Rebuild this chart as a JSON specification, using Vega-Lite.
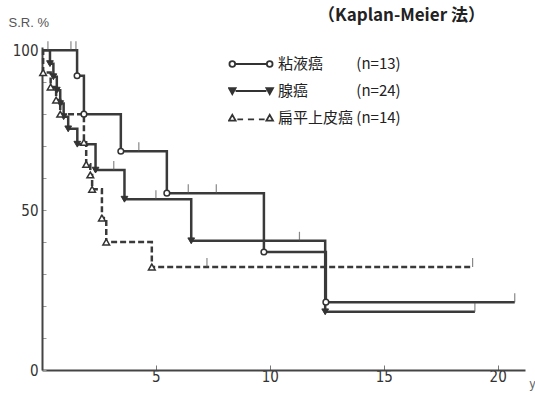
{
  "$schema": "https://vega.github.io/schema/vega-lite/v6.json",
  "width": 483,
  "height": 323,
  "autosize": {"type": "none"},
  "padding": {"left": 42, "top": 47, "right": 10, "bottom": 28},
  "background": "white",
  "title": {"text": "（Kaplan-Meier 法）", "anchor": "start", "frame": "group", "dx": 276, "offset": 21, "dy": 30, "fontSize": 17, "fontWeight": "bold", "font": "Noto Sans CJK JP", "color": "#222"},
  "data": {"values": [
    {"g": "粘液癌", "t": 0, "s": 100, "k": "start"},
    {"g": "粘液癌", "t": 0.26, "s": 100, "k": "censor"},
    {"g": "粘液癌", "t": 1.27, "s": 100, "k": "censor"},
    {"g": "粘液癌", "t": 1.49, "s": 100, "k": "censor"},
    {"g": "粘液癌", "t": 1.54, "s": 92, "k": "event"},
    {"g": "粘液癌", "t": 1.84, "s": 80, "k": "event"},
    {"g": "粘液癌", "t": 3.46, "s": 68.4, "k": "event"},
    {"g": "粘液癌", "t": 4.25, "s": 68.4, "k": "censor"},
    {"g": "粘液癌", "t": 5.48, "s": 55.3, "k": "event"},
    {"g": "粘液癌", "t": 6.42, "s": 55.3, "k": "censor"},
    {"g": "粘液癌", "t": 7.65, "s": 55.3, "k": "censor"},
    {"g": "粘液癌", "t": 9.74, "s": 36.9, "k": "event"},
    {"g": "粘液癌", "t": 12.46, "s": 21.2, "k": "event"},
    {"g": "粘液癌", "t": 20.75, "s": 21.2, "k": "censor"},
    {"g": "腺癌", "t": 0, "s": 100, "k": "start"},
    {"g": "腺癌", "t": 0.35, "s": 95.8, "k": "event"},
    {"g": "腺癌", "t": 0.5, "s": 91.7, "k": "event"},
    {"g": "腺癌", "t": 0.65, "s": 87.5, "k": "event"},
    {"g": "腺癌", "t": 0.8, "s": 83.3, "k": "event"},
    {"g": "腺癌", "t": 0.95, "s": 79.2, "k": "event"},
    {"g": "腺癌", "t": 1.15, "s": 75.4, "k": "event"},
    {"g": "腺癌", "t": 1.55, "s": 70.6, "k": "event"},
    {"g": "腺癌", "t": 2.35, "s": 62.5, "k": "event"},
    {"g": "腺癌", "t": 3.15, "s": 62.5, "k": "censor"},
    {"g": "腺癌", "t": 3.62, "s": 53.4, "k": "event"},
    {"g": "腺癌", "t": 5.0, "s": 53.4, "k": "censor"},
    {"g": "腺癌", "t": 6.55, "s": 40.4, "k": "event"},
    {"g": "腺癌", "t": 11.3, "s": 40.4, "k": "censor"},
    {"g": "腺癌", "t": 12.43, "s": 18.2, "k": "event"},
    {"g": "腺癌", "t": 19.0, "s": 18.2, "k": "censor"},
    {"g": "扁平上皮癌", "t": 0, "s": 100, "k": "start"},
    {"g": "扁平上皮癌", "t": 0.05, "s": 93, "k": "event"},
    {"g": "扁平上皮癌", "t": 0.38, "s": 88.5, "k": "event"},
    {"g": "扁平上皮癌", "t": 0.62, "s": 84.4, "k": "event"},
    {"g": "扁平上皮癌", "t": 0.8, "s": 80, "k": "event"},
    {"g": "扁平上皮癌", "t": 1.84, "s": 71.2, "k": "event"},
    {"g": "扁平上皮癌", "t": 1.94, "s": 64.3, "k": "event"},
    {"g": "扁平上皮癌", "t": 2.12, "s": 61, "k": "event"},
    {"g": "扁平上皮癌", "t": 2.2, "s": 56.5, "k": "event"},
    {"g": "扁平上皮癌", "t": 2.63, "s": 47.5, "k": "event"},
    {"g": "扁平上皮癌", "t": 2.82, "s": 40, "k": "event"},
    {"g": "扁平上皮癌", "t": 4.82, "s": 32.2, "k": "event"},
    {"g": "扁平上皮癌", "t": 7.24, "s": 32.2, "k": "censor"},
    {"g": "扁平上皮癌", "t": 18.9, "s": 32.2, "k": "censor"}
  ]},
  "encoding": {
    "x": {"field": "t", "type": "quantitative", "scale": {"domain": [0, 21.2], "nice": false, "zero": false},
      "axis": {"values": [5, 10, 15, 20], "title": "y", "titleX": 490, "titleY": 13, "titleAlign": "center", "titleBaseline": "middle", "titleFont": "Liberation Sans", "titleFontSize": 12, "titleFontWeight": "normal", "titleColor": "#666", "labelFont": "DejaVu Sans Condensed", "labelFontSize": 15, "labelColor": "#333", "tickSize": -5, "tickColor": "#777", "domainColor": "#444", "domainWidth": 2, "labelPadding": 4, "grid": false, "labelFlush": false}},
    "y": {"field": "s", "type": "quantitative", "scale": {"domain": [0, 101], "nice": false},
      "axis": {"values": [0, 10, 20, 30, 40, 50, 60, 70, 80, 90, 100], "labelExpr": "datum.value % 50 == 0 ? datum.label : ''", "title": "S.R. %", "titleAngle": 0, "titleX": -34, "titleY": -25, "titleAlign": "left", "titleBaseline": "middle", "titleFont": "Liberation Sans", "titleFontSize": 13, "titleFontWeight": "normal", "titleColor": "#555", "labelFont": "DejaVu Sans Condensed", "labelFontSize": 15, "labelColor": "#333", "tickSize": -4, "tickColor": "#999", "domainColor": "#444", "domainWidth": 2, "labelPadding": 8, "grid": false}}
  },
  "layer": [
    {"transform": [{"filter": "datum.g != '扁平上皮癌'"}],
     "mark": {"type": "line", "interpolate": "step-after", "color": "#3a3a3a", "strokeWidth": 2.5},
     "encoding": {"detail": {"field": "g"}, "order": {"field": "t"}}},
    {"transform": [{"filter": "datum.g == '扁平上皮癌'"}],
     "mark": {"type": "line", "interpolate": "step-after", "color": "#3a3a3a", "strokeWidth": 2.5, "strokeDash": [6, 3]},
     "encoding": {"order": {"field": "t"}}},
    {"transform": [{"filter": "datum.k == 'censor'"}],
     "mark": {"type": "tick", "orient": "vertical", "size": 9, "thickness": 1.2, "color": "#555", "yOffset": -4.5}},
    {"transform": [{"filter": "datum.k == 'event' && datum.g == '粘液癌'"}],
     "mark": {"type": "point", "shape": "circle", "size": 32, "filled": true, "fill": "white", "stroke": "#333", "strokeWidth": 1.5, "opacity": 1}},
    {"transform": [{"filter": "datum.k == 'event' && datum.g == '腺癌'"}],
     "mark": {"type": "point", "shape": "triangle-down", "size": 45, "filled": true, "fill": "#333", "stroke": "#333", "strokeWidth": 1, "opacity": 1}},
    {"transform": [{"filter": "datum.k == 'event' && datum.g == '扁平上皮癌'"}],
     "mark": {"type": "point", "shape": "triangle-up", "size": 45, "filled": true, "fill": "white", "stroke": "#333", "strokeWidth": 1.5, "opacity": 1}},
    {"transform": [{"filter": "datum.k == 'start'"}],
     "mark": {"type": "point", "filled": false, "fillOpacity": 0, "strokeOpacity": 0, "stroke": "#333", "strokeWidth": 1.8},
     "encoding": {
       "shape": {"field": "g", "type": "nominal",
         "scale": {"domain": ["粘液癌", "腺癌", "扁平上皮癌"], "range": [
           "M-0.98,0A0.13,0.13,0,1,1,-0.72,0A0.13,0.13,0,1,1,-0.98,0M-0.72,0L0.72,0M0.72,0A0.13,0.13,0,1,1,0.98,0A0.13,0.13,0,1,1,0.72,0",
           "M-1,-0.13L-0.7,-0.13L-0.85,0.14ZM-0.93,-0.08L-0.77,-0.08L-0.85,0.06ZM-0.7,0L0.7,0M0.7,-0.13L1,-0.13L0.85,0.14ZM0.77,-0.08L0.93,-0.08L0.85,0.06Z",
           "M-1,0.12L-0.7,0.12L-0.85,-0.14ZM-0.62,0.06L-0.36,0.06M-0.14,0.06L0.14,0.06M0.36,0.06L0.62,0.06M0.7,0.12L1,0.12L0.85,-0.14Z"]},
         "legend": {"orient": "none", "legendX": 186, "legendY": 6, "title": null, "symbolSize": 1936, "clipHeight": 22, "rowPadding": 5, "labelFont": "Noto Sans CJK JP", "labelFontSize": 15, "labelColor": "#222", "symbolStrokeWidth": 1.8, "symbolStrokeColor": "#333", "symbolFillColor": "white", "symbolOpacity": 1,
           "labelExpr": "datum.value == '粘液癌' ? '粘液癌　　 (n=13)' : datum.value == '腺癌' ? '腺癌　　　 (n=24)' : '扁平上皮癌 (n=14)'"}}
     }}
  ],
  "config": {"view": {"stroke": null}}
}
